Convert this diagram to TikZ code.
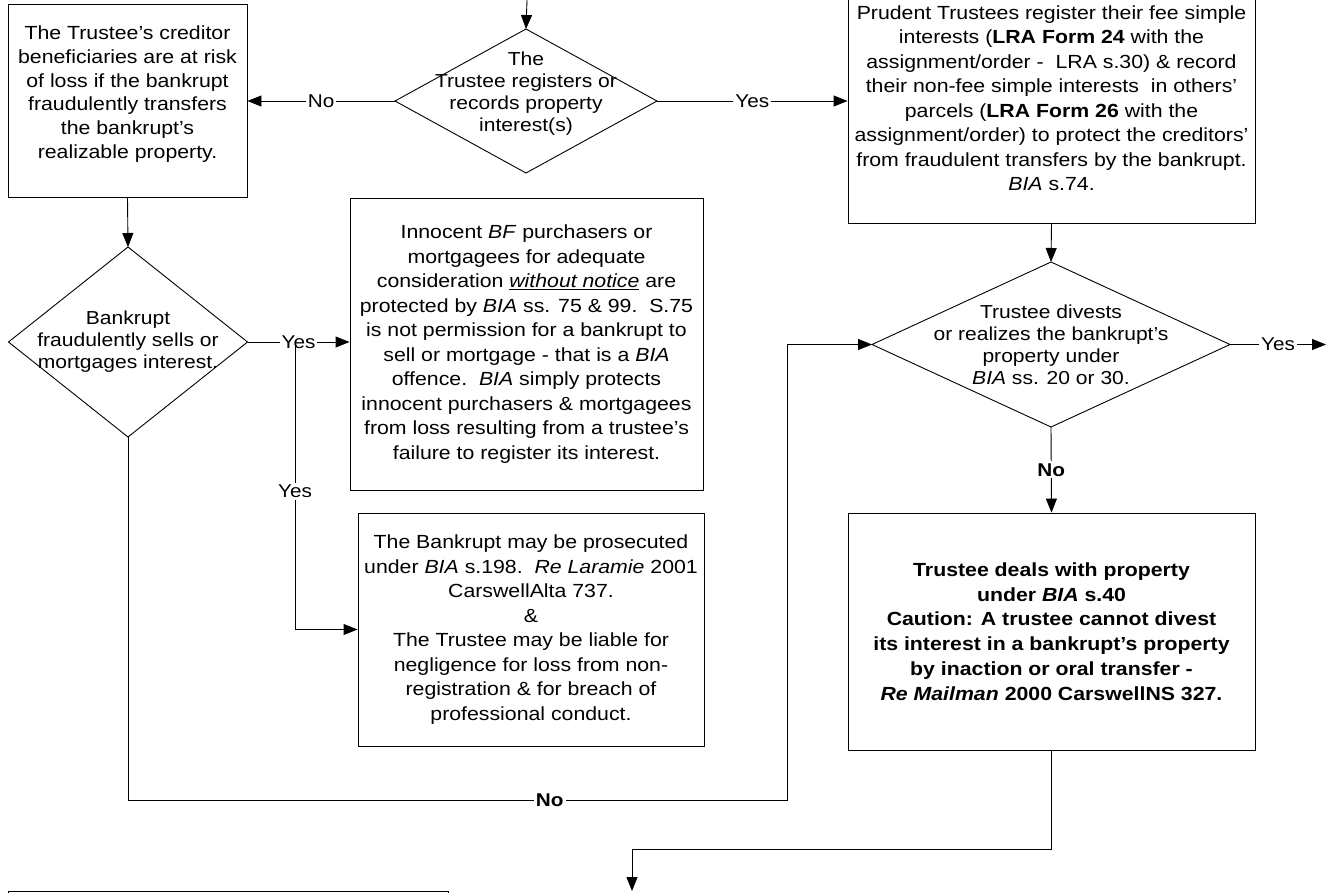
\documentclass[tikz,border=0pt]{standalone}
\usepackage{fontspec}
\setmainfont{Liberation Sans}[FakeStretch=1.12]
\usetikzlibrary{shapes.geometric,arrows.meta}

\begin{document}
\begin{tikzpicture}[x=1pt,y=-1pt,line width=0.9pt,>={Triangle[length=14pt,width=11pt]},
	box/.style={shape=rectangle,draw,inner sep=0pt,align=center,
		font=\fontsize{19}{24.5}\selectfont},
	decision/.style={shape=diamond,draw,inner sep=0pt,outer sep=0pt},
	boxtext/.style={align=center,inner sep=0pt,font=\fontsize{19}{23.8}\selectfont},
	dtext/.style={align=center,inner sep=0pt,font=\fontsize{18.8}{22}\selectfont},
	lbl/.style={fill=white,inner sep=2pt,font=\fontsize{18.5}{22}\selectfont}]
    \useasboundingbox (0,0) rectangle (1331,892);
    \clip (0,0) rectangle (1331,892);
    % create the nodes
    \node (riskbox) [box,minimum width=239pt,minimum height=193pt] at (127.5,100.5) {};
    \node (risktext) [boxtext] at (127.5,94) {The Trustee's creditor\\beneficiaries are at risk\\
    	of loss if the bankrupt\\fraudulently transfers\\the bankrupt's\\realizable property.};
    \node (regq) [decision,minimum width=262pt,minimum height=144pt] at (526,101) {};
    \node (regqtext) [dtext] at (526,94) {The\\Trustee registers or\\records property\\interest(s)};
    \node (prudbox) [box,minimum width=407pt,minimum height=251pt] at (1051.5,98) {Prudent
    	Trustees register their fee simple\\interests (\textbf{LRA Form 24} with the\\
    	assignment/order -\ \ LRA s.30) \& record\\their non-fee simple interests\ \ in others'\\
    	parcels (\textbf{LRA Form 26} with the\\assignment/order) to protect the creditors'\\
    	from fraudulent transfers by the bankrupt.\\\textit{BIA} s.74.};
    \node (fraudq) [decision,minimum width=239pt,minimum height=190pt] at (128,342) {};
    \node (fraudtext) [dtext] at (128,342) {Bankrupt\\fraudulently sells or\\mortgages interest.};
    \node (protbox) [box,minimum width=353pt,minimum height=292pt] at (526.5,344) {Innocent
    	\textit{BF} purchasers or\\mortgagees for adequate\\
    	consideration \underline{\textit{without notice}} are\\
    	protected by \textit{BIA} ss. 75 \& 99.\ \ S.75\\is not permission for a bankrupt to\\
    	sell or mortgage - that is a \textit{BIA}\\offence.\ \ \textit{BIA} simply protects\\
    	innocent purchasers \& mortgagees\\from loss resulting from a trustee's\\
    	failure to register its interest.};
    \node (prosbox) [box,minimum width=346pt,minimum height=233pt] at (531,629.5) {The
    	Bankrupt may be prosecuted\\under \textit{BIA} s.198.\ \ \textit{Re Laramie} 2001\\
    	CarswellAlta 737.\\\&\\The Trustee may be liable for\\negligence for loss from non-\\
    	registration \& for breach of\\professional conduct.};
    \node (divq) [decision,minimum width=358pt,minimum height=165pt] at (1051,344.5) {};
    \node (divtext) [dtext] at (1051,345) {Trustee divests\\or realizes the bankrupt's\\
    	property under\\\textit{BIA} ss. 20 or 30.};
    \node (dealbox) [box,minimum width=407pt,minimum height=237pt,font=\fontsize{19}{24.8}\selectfont\bfseries]
    	at (1051.5,631.5) {Trustee deals with property\\under \textit{BIA} s.40\\
    	Caution: A trustee cannot divest\\its interest in a bankrupt's property\\
    	by inaction or oral transfer -\\\textit{Re Mailman} 2000 CarswellNS 327.};
    \node (nextbox) [box,minimum width=440pt,minimum height=118pt] at (228,950) {};
    \coordinate (entry) at (527,0);
    \coordinate (fork) at (295,342);
    \coordinate (nobend) at (787,800);
    \coordinate (yesout) at (1326,344.5);
    \coordinate (outbend) at (632,849);
    \coordinate (exitpt) at (632,891);
    % connect the nodes
    \draw[->] (entry) -- (regq.north);
    \draw[->] (regq.west) -- node[lbl]{No} (regq.west -| riskbox.east);
    \draw[->] (regq.east) -- node[lbl]{Yes} (regq.east -| prudbox.west);
    \draw[->] (riskbox.south) -- (fraudq.north);
    \draw[->] (fraudq.east) -- node[lbl]{Yes} (fraudq.east -| protbox.west);
    \draw[->] (fork) |- node[lbl,pos=0.26]{Yes} (prosbox.west);
    \draw[->] (fraudq.south) |- node[lbl,pos=0.82]{\textbf{No}} (nobend) |- (divq.west);
    \draw[->] (prudbox.south) -- (divq.north);
    \draw[->] (divq.east) -- node[lbl]{Yes} (yesout);
    \draw[->] (divq.south) -- node[lbl]{\textbf{No}} (dealbox.north);
    \draw[->] (dealbox.south) |- (outbend) -- (exitpt);
\end{tikzpicture}
\end{document}
